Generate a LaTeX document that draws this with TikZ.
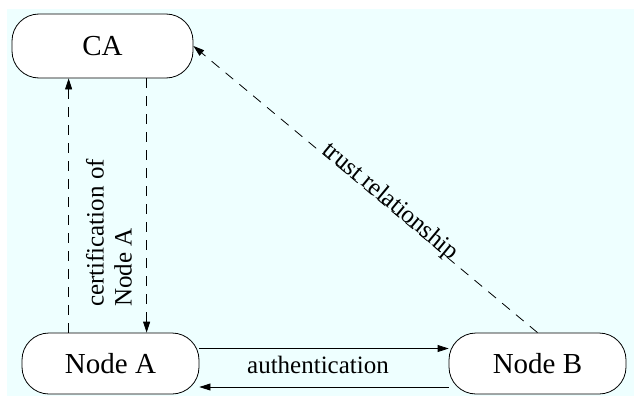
\documentclass[tikz,border=0pt]{standalone}
\usepackage{fontspec}
\setmainfont{Liberation Serif}
\usetikzlibrary{arrows.meta}

\definecolor{fundo}{RGB}{238,255,255}

\begin{document}
\begin{tikzpicture}[x=1pt, y=-1pt,
    entidade/.style={draw, fill=white, line width=0.8pt, rounded corners=27pt,
      inner sep=0pt, font=\fontsize{29}{34}\selectfont},
    rotulo/.style={font=\fontsize{25}{28}\selectfont, inner sep=2pt},
    seta/.style={line width=0.8pt, -{Triangle[length=11pt,width=7pt]}},
    setatrac/.style={seta, dash pattern=on 10pt off 8pt}]
  \useasboundingbox (0,0) rectangle (634,396);
  % fundo
  \fill[fundo] (7,9) rectangle (634,396);
  % entidades
  \node[entidade, minimum width=181pt, minimum height=64pt] (CA) at (102.5,46) {CA};
  \node[entidade, minimum width=177pt, minimum height=61pt] (nodeA) at (110.5,363.5) {Node A};
  \node[entidade, minimum width=177pt, minimum height=61pt] (nodeB) at (537.5,363.5) {Node B};
  % certificado
  \draw[setatrac] ([xshift=47pt]nodeA.north west) -- ([xshift=47pt]nodeA.north west |- CA.south);
  \draw[setatrac] ([xshift=135pt]CA.south west) -- ([xshift=135pt]CA.south west |- nodeA.north);
  \node[rotulo, rotate=90, align=left] (cert) at (109,233) {certification of\\Node A};
  % autenticacao
  \draw[seta] ([yshift=15pt]nodeA.east) -- ([yshift=15pt]nodeB.west);
  \draw[seta] ([yshift=-23.5pt]nodeB.west) -- ([yshift=-23.5pt]nodeA.east);
  \node[rotulo] (auth) at (318,365) {authentication};
  % confianca
  \draw[setatrac] (nodeB.north) -- (CA.east)
    node[rotulo, pos=0.44, sloped, anchor=base] (trust) {trust relationship};
\end{tikzpicture}
\end{document}
